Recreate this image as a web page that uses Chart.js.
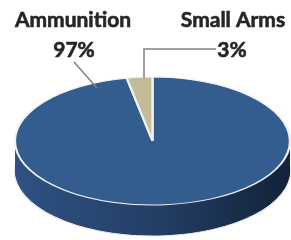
<!DOCTYPE html>
<html><head><meta charset="utf-8">
<script src="https://cdn.jsdelivr.net/npm/chart.js@4.4.1/dist/chart.umd.min.js"></script>
<style>html,body{margin:0;padding:0;background:#fff;}#wrap{width:291px;height:240px;position:relative;}</style>
</head><body><div id="wrap"><canvas id="c" width="291" height="240"></canvas></div>
<script>
const categories = ["Ammunition", "Small Arms"];
const values = [97, 3];
const percentLabels = ["97%", "3%"];
const colors = ["#345D8F", "#C4BC97"];

// ellipse geometry of the top face (layout)
const TX = 152.5, TY = 141, RX = 137.5, RY = 64, DEPTH = 31;

function drawArcT(ctx, arc, dy, override) {
  const R = arc.outerRadius;
  ctx.save();
  ctx.translate(TX, TY + dy);
  ctx.scale(RX / R, RY / R);
  ctx.translate(-arc.x, -arc.y);
  const orig = arc.options;
  if (override) arc.options = Object.assign({}, orig, override(ctx, arc));
  arc.draw(ctx);
  arc.options = orig;
  ctx.restore();
}

const pie3d = {
  id: 'pie3d',
  beforeDatasetsDraw(chart) {
    const ctx = chart.ctx;
    const arcs = chart.getDatasetMeta(0).data;
    const sideFill = (c, arc) => {
      const g = c.createLinearGradient(arc.x - arc.outerRadius, 0, arc.x + arc.outerRadius, 0);
      g.addColorStop(0, '#2E5283');
      g.addColorStop(0.5, '#243F66');
      g.addColorStop(1, '#12233A');
      return g;
    };
    for (let k = DEPTH; k >= 1; k--) {
      arcs.forEach(a => drawArcT(ctx, a, k, (c, arc) => ({
        backgroundColor: sideFill(c, arc),
        borderWidth: k === DEPTH ? 2 : 0,
        borderColor: '#E8E8E8'
      })));
    }
    arcs.forEach(a => drawArcT(ctx, a, 0, null));
    return false;
  },
  afterDraw(chart) {
    const ctx = chart.ctx;
    ctx.save();
    ctx.strokeStyle = '#808080';
    ctx.lineWidth = 1.5;
    ctx.beginPath();
    ctx.moveTo(74, 62); ctx.lineTo(97, 88);
    ctx.moveTo(144, 78); ctx.lineTo(144, 49); ctx.lineTo(216, 49);
    ctx.stroke();
    ctx.fillStyle = '#262626';
    ctx.font = 'bold 21px Lato';
    ctx.textAlign = 'center';
    ctx.textBaseline = 'middle';
    ctx.lineWidth = 0.6;
    ctx.strokeStyle = '#262626';
    const t = (s, x, y) => { ctx.fillText(s, x, y); ctx.strokeText(s, x, y); };
    t(categories[0], 73, 20);
    t(percentLabels[0], 74, 50);
    t(categories[1], 233, 20);
    t(percentLabels[1], 232, 50);
    ctx.restore();
  }
};

new Chart(document.getElementById('c'), {
  type: 'pie',
  data: {
    labels: categories,
    datasets: [{ data: values, backgroundColor: colors, borderColor: '#F2F2F2', borderWidth: 2 }]
  },
  options: {
    responsive: false,
    animation: false,
    events: [],
    layout: { padding: 0 },
    plugins: { legend: { display: false }, tooltip: { enabled: false } }
  },
  plugins: [pie3d]
});
</script>
</body></html>
